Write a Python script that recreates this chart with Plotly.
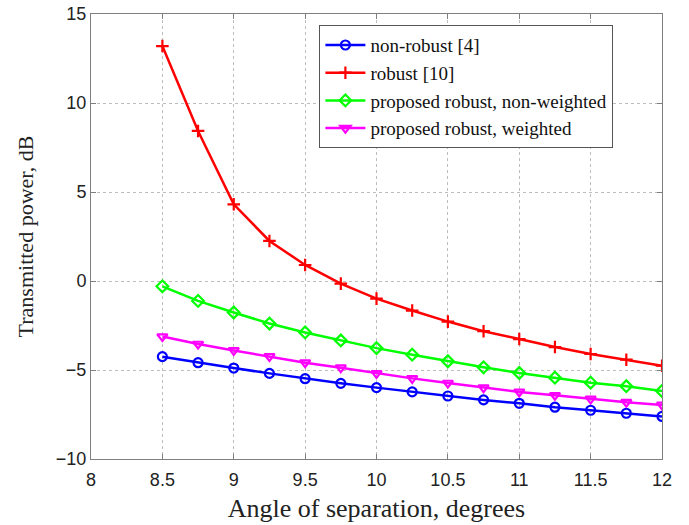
import plotly.graph_objects as go

# Angle of separation (degrees)
angles = [8.5, 8.75, 9.0, 9.25, 9.5, 9.75, 10.0, 10.25, 10.5, 10.75, 11.0, 11.25, 11.5, 11.75, 12.0]

# Transmitted power (dB) for each beamforming scheme
non_robust = [-4.25, -4.59, -4.89, -5.19, -5.49, -5.75, -5.99, -6.23, -6.46, -6.68, -6.87, -7.09, -7.26, -7.43, -7.61]
robust = [13.2, 8.43, 4.31, 2.25, 0.9, -0.15, -0.99, -1.66, -2.28, -2.82, -3.26, -3.71, -4.10, -4.42, -4.76]
prop_nonweighted = [-0.30, -1.12, -1.77, -2.39, -2.89, -3.34, -3.77, -4.14, -4.51, -4.85, -5.17, -5.43, -5.71, -5.91, -6.18]
prop_weighted = [-3.12, -3.54, -3.90, -4.24, -4.59, -4.87, -5.19, -5.47, -5.73, -5.99, -6.23, -6.42, -6.62, -6.81, -6.96]

series = [
    ("non-robust [4]", non_robust, "#0000ff", "circle-open"),
    ("robust [10]", robust, "#ff0000", "cross-thin-open"),
    ("proposed robust, non-weighted", prop_nonweighted, "#00ff00", "diamond-open"),
    ("proposed robust, weighted", prop_weighted, "#ff00ff", "triangle-down-open"),
]

fig = go.Figure()
for name, vals, color, symbol in series:
    fig.add_trace(go.Scatter(
        x=angles, y=vals, name=name, mode="lines+markers",
        line=dict(color=color, width=2.5),
        marker=dict(symbol=symbol, size=9, color=color,
                    line=dict(color=color, width=2.2)),
    ))

axis_common = dict(
    showline=True, linecolor="#7f7f7f", linewidth=1, mirror="ticks",
    ticks="inside", ticklen=5, tickcolor="#7f7f7f",
    showgrid=True, gridcolor="#bdbdbd", griddash="dot", gridwidth=1,
    zeroline=False, automargin=False,
    tickfont=dict(family="Liberation Sans, Arial, sans-serif", size=18, color="#222"),
)

fig.update_xaxes(
    range=[8, 12], tickvals=[8, 8.5, 9, 9.5, 10, 10.5, 11, 11.5, 12],
    ticktext=["8", "8.5", "9", "9.5", "10", "10.5", "11", "11.5", "12"],
    ticklabelstandoff=4,
    title=dict(text="Angle of separation, degrees", standoff=10,
               font=dict(family="Liberation Serif, Times New Roman, serif", size=26, color="#222")),
    **axis_common,
)
fig.update_yaxes(
    range=[-10, 15], tickvals=[-10, -5, 0, 5, 10, 15],
    title=dict(text="Transmitted power, dB", standoff=16,
               font=dict(family="Liberation Serif, Times New Roman, serif", size=22, color="#222")),
    **axis_common,
)

fig.update_layout(
    width=689, height=525,
    margin=dict(l=91, r=27, t=14, b=66),
    paper_bgcolor="white", plot_bgcolor="white",
    legend=dict(
        x=0.400, y=0.975, xanchor="left", yanchor="top",
        bgcolor="white", bordercolor="#555", borderwidth=1,
        font=dict(family="Liberation Serif, Times New Roman, serif", size=19, color="#111"),
        tracegroupgap=0, itemwidth=40, entrywidth=285, entrywidthmode="pixels",
    ),
)

fig.write_html("out.html")
